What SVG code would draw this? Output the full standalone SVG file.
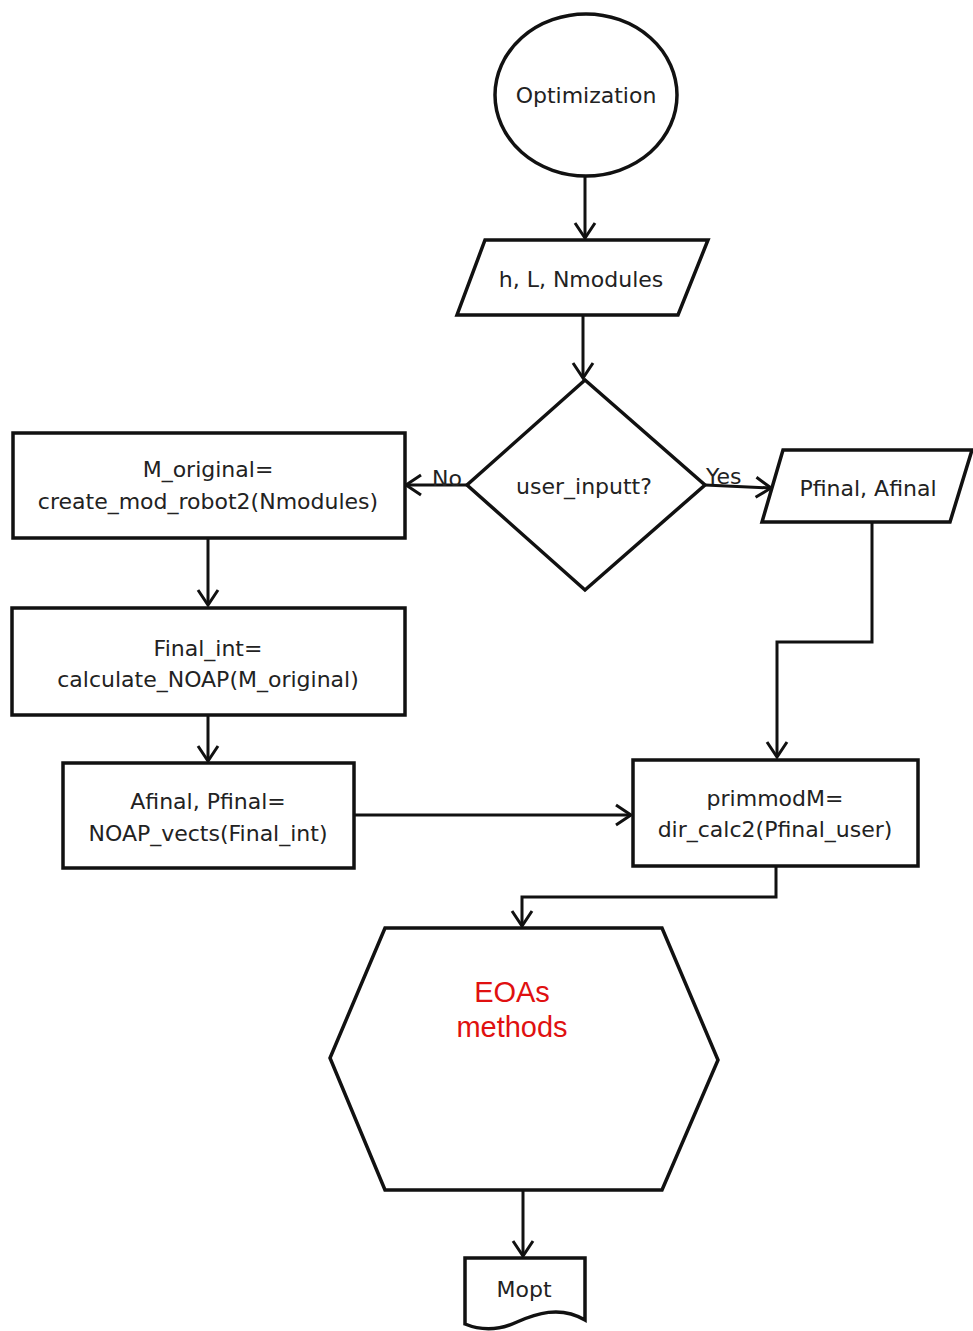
<svg xmlns="http://www.w3.org/2000/svg" width="973" height="1331" viewBox="0 0 973 1331">
<style>
.s{fill:#fff;stroke:#111;stroke-width:3.5}
.t{font-family:"DejaVu Sans",sans-serif;font-size:22px;fill:#222;text-anchor:middle}
.l{font-family:"DejaVu Sans",sans-serif;font-size:22px;fill:#222}
.c{fill:none;stroke:#111;stroke-width:3}
.r{font-family:"Liberation Sans",Arial,sans-serif;font-size:29px;fill:#e01010;text-anchor:middle}
</style>
<defs>
<marker id="a" markerUnits="userSpaceOnUse" markerWidth="22" markerHeight="24" refX="18" refY="12" orient="auto">
<path d="M3,2 L18,12 L3,22" fill="none" stroke="#111" stroke-width="3"/>
</marker>
</defs>
<rect width="973" height="1331" fill="#fff"/>
<g id="connectors">
<path class="c" d="M585,176 V238" marker-end="url(#a)"/>
<path class="c" d="M583,316 V378" marker-end="url(#a)"/>
<path class="c" d="M467,485 H406" marker-end="url(#a)"/>
<path class="c" d="M705,485 L771,488" marker-end="url(#a)"/>
<path class="c" d="M872,523 V642 H777 V757" marker-end="url(#a)"/>
<path class="c" d="M208,539 V605" marker-end="url(#a)"/>
<path class="c" d="M208,716 V761" marker-end="url(#a)"/>
<path class="c" d="M354,815 H631" marker-end="url(#a)"/>
<path class="c" d="M776,867 V897 H522 V926" marker-end="url(#a)"/>
<path class="c" d="M523,1191 V1256" marker-end="url(#a)"/>
<text class="l" x="432" y="486">No</text>
<text class="l" x="706" y="484">Yes</text>
</g>
<g id="start">
<ellipse class="s" cx="586" cy="95" rx="91" ry="81"/>
<text class="t" x="586" y="103">Optimization</text>
</g>
<g id="input1">
<polygon class="s" points="485,240 708,240 678,315 457,315"/>
<text class="t" x="581" y="287">h, L, Nmodules</text>
</g>
<g id="decision">
<polygon class="s" points="585,380 705,485 585,590 467,485"/>
<text class="t" x="584" y="494">user_inputt?</text>
</g>
<g id="input2">
<polygon class="s" points="783,450 972,450 950,522 762,522"/>
<text class="t" x="868" y="496">Pfinal, Afinal</text>
</g>
<g id="morig">
<rect class="s" x="13" y="433" width="392" height="105"/>
<text class="t" x="208" y="477">M_original=</text>
<text class="t" x="208" y="509">create_mod_robot2(Nmodules)</text>
</g>
<g id="finalint">
<rect class="s" x="12" y="608" width="393" height="107"/>
<text class="t" x="208" y="656">Final_int=</text>
<text class="t" x="208" y="687">calculate_NOAP(M_original)</text>
</g>
<g id="afinal">
<rect class="s" x="63" y="763" width="291" height="105"/>
<text class="t" x="208" y="809">Afinal, Pfinal=</text>
<text class="t" x="208" y="841">NOAP_vects(Final_int)</text>
</g>
<g id="primmod">
<rect class="s" x="633" y="760" width="285" height="106"/>
<text class="t" x="775" y="806">primmodM=</text>
<text class="t" x="775" y="837">dir_calc2(Pfinal_user)</text>
</g>
<g id="eoas">
<polygon class="s" points="385,928 662,928 718,1060 662,1190 385,1190 330,1058"/>
<text class="r" x="512" y="1002">EOAs</text>
<text class="r" x="512" y="1037">methods</text>
</g>
<g id="mopt">
<path class="s" d="M465,1258 H585 V1320 C560,1305 535,1314 517,1322 C500,1330 482,1331 465,1324 Z"/>
<text class="t" x="524" y="1297">Mopt</text>
</g>
</svg>
